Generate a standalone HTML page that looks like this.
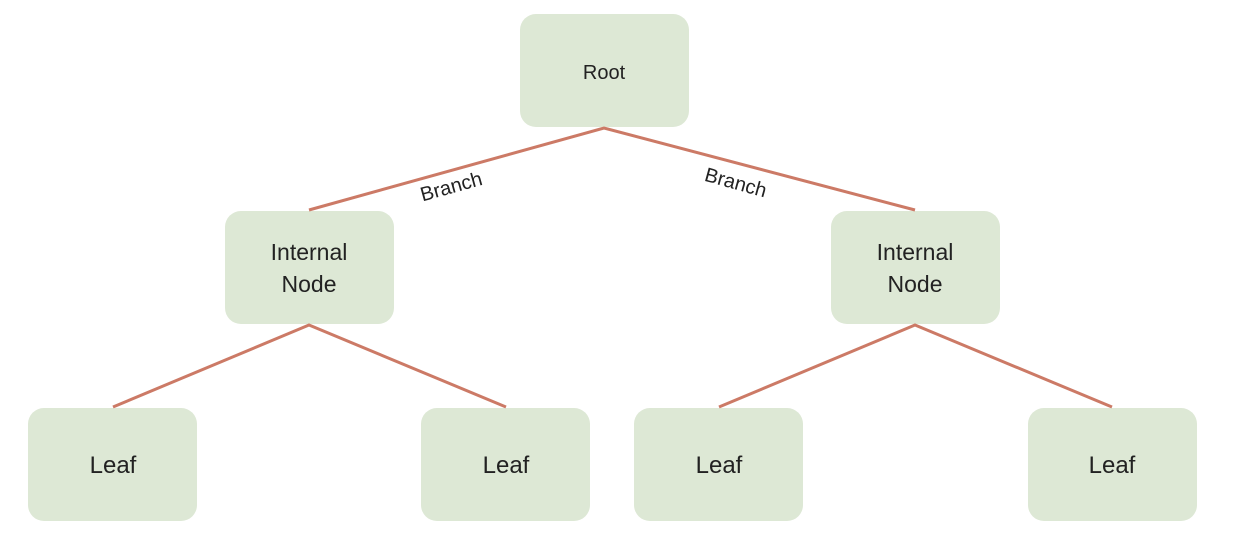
<!DOCTYPE html>
<html><head><style>
body{margin:0;background:#fff;}
svg text{font-family:"Liberation Sans",sans-serif;fill:#222;font-weight:300;}
</style></head><body>
<svg width="1244" height="554" viewBox="0 0 1244 554" xmlns="http://www.w3.org/2000/svg">
<g fill="#dde8d5">
<rect x="520" y="14" width="169" height="113" rx="16"/>
<rect x="225" y="211" width="169" height="113" rx="16"/>
<rect x="831" y="211" width="169" height="113" rx="16"/>
<rect x="28" y="408" width="169" height="113" rx="16"/>
<rect x="421" y="408" width="169" height="113" rx="16"/>
<rect x="634" y="408" width="169" height="113" rx="16"/>
<rect x="1028" y="408" width="169" height="113" rx="16"/>
</g>
<g stroke="#cc7a66" stroke-width="3" fill="none">
<polyline points="309,210 604,128 915,210"/>
<polyline points="113,407 309,325 506,407"/>
<polyline points="719,407 915,325 1112,407"/>
</g>
<g text-anchor="middle">
<text x="604" y="79" font-size="20">Root</text>
<text x="309" y="260" font-size="23">Internal</text>
<text x="309" y="292" font-size="23">Node</text>
<text x="915" y="260" font-size="23">Internal</text>
<text x="915" y="292" font-size="23">Node</text>
<text x="113" y="473" font-size="24">Leaf</text>
<text x="506" y="473" font-size="24">Leaf</text>
<text x="719" y="473" font-size="24">Leaf</text>
<text x="1112" y="473" font-size="24">Leaf</text>
<text font-size="20" transform="translate(453,193) rotate(-15.5)">Branch</text>
<text font-size="20" transform="translate(734,189) rotate(15.5)">Branch</text>
</g>
</svg>
</body></html>
